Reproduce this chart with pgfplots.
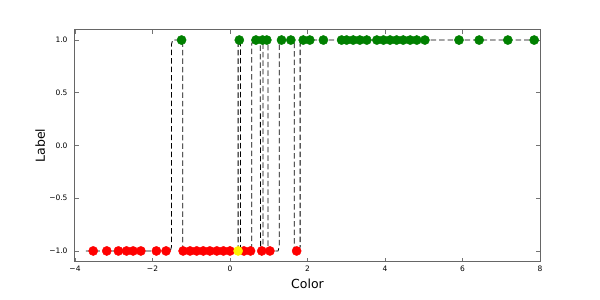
\documentclass[border=0pt]{standalone}
\usepackage{fontspec}
\setmainfont{DejaVu Sans}
\usepackage{pgfplots}
\pgfplotsset{compat=1.18}
\definecolor{mplgreen}{rgb}{0,0.5,0}
\begin{document}
\begin{tikzpicture}[x=1pt,y=1pt]
\begin{axis}[
  at={(0,0)}, anchor=south west,
  width=465pt, height=232pt, scale only axis,
  xmin=-4, xmax=8, ymin=-1.1, ymax=1.1,
  xtick={-4,-2,0,2,4,6,8},
  xticklabels={−4,−2,0,2,4,6,8},
  ytick={-1,-0.5,0,0.5,1},
  yticklabels={−1.0,−0.5,0.0,0.5,1.0},
  tick align=inside,
  major tick length=4pt,
  tick style={black!55, line width=0.8pt},
  axis line style={black!60, line width=1pt},
  ticklabel style={font=\fontsize{7.5}{9}\selectfont},
  yticklabel style={xshift=-4pt},
  xticklabel style={yshift=-1pt},
  xlabel={Color}, ylabel={Label},
  label style={font=\fontsize{12.5}{15}\selectfont},
  xlabel style={at={(axis description cs:0.5,-0.095)}, anchor=center},
  ylabel style={at={(axis description cs:-0.075,0.5)}, anchor=center},
  clip=false,
]
% red points
\addplot[only marks, mark=*, mark size=4.6pt, color=red] coordinates {
 (-3.53,-1) (-3.18,-1) (-2.88,-1) (-2.67,-1) (-2.50,-1) (-2.30,-1)
 (-1.90,-1) (-1.65,-1) (-1.21,-1) (-1.03,-1) (-0.86,-1) (-0.69,-1)
 (-0.52,-1) (-0.34,-1) (-0.17,-1) (0.0,-1) (0.36,-1) (0.53,-1)
 (0.82,-1) (1.03,-1) (1.72,-1)
};
% green points
\addplot[only marks, mark=*, mark size=4.6pt, color=mplgreen] coordinates {
 (-1.25,1) (0.24,1) (0.67,1) (0.84,1) (0.95,1) (1.33,1) (1.57,1)
 (1.89,1) (2.06,1) (2.41,1) (2.88,1) (3.01,1) (3.18,1) (3.35,1)
 (3.53,1) (3.79,1) (3.96,1) (4.13,1) (4.30,1) (4.47,1) (4.65,1)
 (4.82,1) (5.03,1) (5.91,1) (6.43,1) (7.17,1) (7.85,1)
};
% dashed step line
\addplot[black, line width=0.8pt, dash pattern=on 5.5pt off 3pt] coordinates {
 (-3.72,-1) (-1.54,-1) (-1.51,-0.96) (-1.51,0.96) (-1.48,1)
 (-1.25,1) (-1.22,0.96) (-1.22,-0.96) (-1.19,-1)
 (0.19,-1) (0.21,-0.96) (0.21,0.96) (0.23,1)
 (0.25,1) (0.27,0.96) (0.27,-0.96) (0.29,-1)
 (0.53,-1) (0.56,-0.96) (0.56,0.96) (0.59,1)
 (0.74,1) (0.78,0.96) (0.79,-0.96) (0.82,-1)
 (0.82,-1) (0.85,-0.96) (0.85,0.96) (0.87,1)
 (0.95,1) (0.98,0.96) (0.98,-0.96) (1.01,-1)
 (1.24,-1) (1.27,-0.96) (1.27,0.96) (1.30,1)
 (1.63,1) (1.66,0.96) (1.66,-0.96) (1.69,-1)
 (1.78,-1) (1.81,-0.96) (1.81,0.96) (1.84,1)
 (7.88,1)
};
% yellow point
\addplot[only marks, mark=*, mark size=4.6pt, color=yellow] coordinates {(0.21,-1)};
\end{axis}
\path (-75pt,-38.5pt) rectangle (525pt,261.5pt);
\end{tikzpicture}
\end{document}
